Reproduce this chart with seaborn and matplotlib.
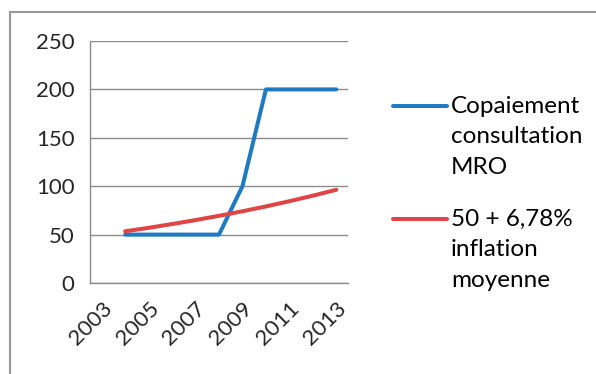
import seaborn as sns
import pandas as pd
import numpy as np
import matplotlib.pyplot as plt
from matplotlib.patches import Rectangle
from matplotlib.lines import Line2D

sns.set_style("white")
plt.rcParams["font.family"] = ["Lato", "DejaVu Sans"]

years = list(range(2003, 2014))
copaiement = [np.nan, 50, 50, 50, 50, 50, 100, 200, 200, 200, 200]
inflation = [np.nan, 53.4, 57.0, 60.9, 65.0, 69.4, 74.1, 79.1, 84.5, 90.2, 96.3]
labels = ["Copaiement\nconsultation\nMRO", "50 + 6,78%\ninflation\nmoyenne"]
colors = ["#1f7ac4", "#e04545"]

df = pd.DataFrame({"year": years, labels[0]: copaiement, labels[1]: inflation})
df = df.melt(id_vars="year", var_name="serie", value_name="valeur")

W, H = 596, 374
fig = plt.figure(figsize=(W / 100, H / 100), dpi=100)
ax = fig.add_axes([90 / W, 1 - 283 / H, 258 / W, 242 / H])
sns.lineplot(data=df, x="year", y="valeur", hue="serie", palette=colors,
             linewidth=2.9, ax=ax, legend=False)

ax.set_xlim(2002.5, 2013.5)
ax.set_ylim(0, 250)
ax.set_yticks(range(0, 251, 50))
ax.set_xticks(years[::2])
ax.set_xticklabels([str(y) for y in years[::2]], rotation=45, ha="right",
                   va="top", rotation_mode="anchor")
ax.set_xticks(np.arange(2002.5, 2014, 1), minor=True)
ax.tick_params(axis="x", which="major", length=0, pad=11, labelsize=16)
ax.tick_params(axis="x", which="minor", length=8, color="#888888", width=1, direction="out")
ax.tick_params(axis="y", length=8, color="#888888", width=1, direction="out", labelsize=16, pad=3)
ax.set_xlabel("")
ax.set_ylabel("")
ax.yaxis.grid(True, color="#8c8c8c", linewidth=1)
for side in ["top", "right"]:
    ax.spines[side].set_visible(False)
for side in ["left", "bottom"]:
    ax.spines[side].set_color("#8c8c8c")
    ax.spines[side].set_linewidth(1)

# legend entries, handle aligned with the first text line (Excel style)
for lab, col, ytop in zip(labels, colors, [106, 219]):
    fig.add_artist(Line2D([393 / W, 447 / W], [1 - ytop / H] * 2, color=col,
                          linewidth=2.9, transform=fig.transFigure))
    fig.text(451 / W, 1 - (ytop - 10) / H, lab, fontsize=17.5, va="top", ha="left",
             linespacing=1.55, color="black")

# outline of the chart area (cropped on right and bottom)
fig.patches.append(Rectangle((10 / W, -0.1), 1.2, 1 - 12 / H + 0.1,
                             transform=fig.transFigure, fill=False,
                             edgecolor="#999999", linewidth=1.5))

fig.savefig("out.png", dpi=100)
